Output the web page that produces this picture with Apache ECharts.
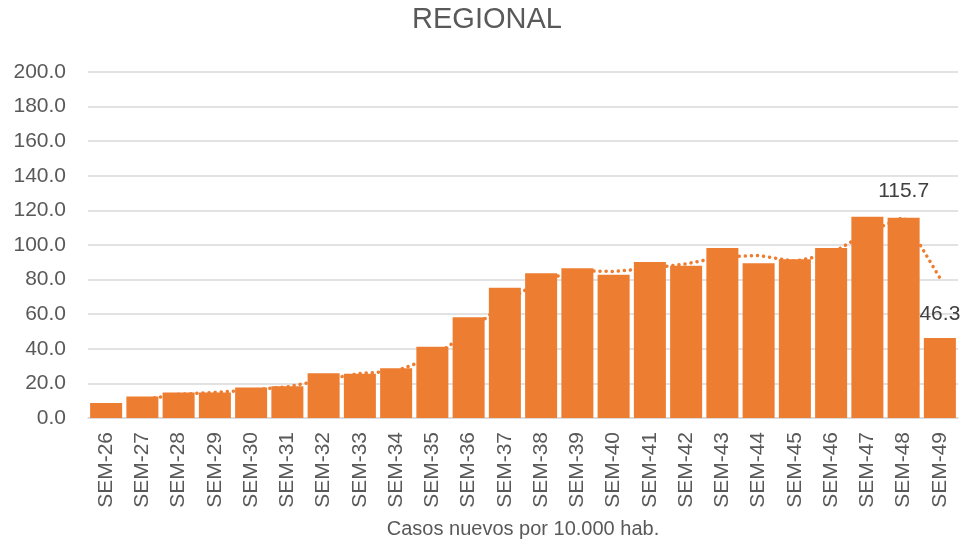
<!DOCTYPE html>
<html>
<head>
<meta charset="utf-8">
<script src="https://cdn.jsdelivr.net/npm/echarts@6/dist/echarts.min.js"></script>
<style>
html,body{margin:0;padding:0;background:#fff;}
#chart{width:974px;height:542px;}
</style>
</head>
<body>
<div id="chart"></div>
<script>
var categories = ['SEM-26','SEM-27','SEM-28','SEM-29','SEM-30','SEM-31','SEM-32','SEM-33','SEM-34','SEM-35','SEM-36','SEM-37','SEM-38','SEM-39','SEM-40','SEM-41','SEM-42','SEM-43','SEM-44','SEM-45','SEM-46','SEM-47','SEM-48','SEM-49'];
var casos = [8.7,12.5,14.8,14.7,17.7,18.3,25.8,25.6,28.7,41.2,58.2,75.3,83.6,86.5,82.8,90.2,88.0,98.3,89.4,91.7,98.3,116.3,115.7,46.3];
var tendencia = [null,10.6,13.7,14.8,16.2,18.0,22.1,25.7,27.2,35.0,49.7,66.8,79.5,85.1,84.7,86.5,89.1,93.2,93.9,90.6,95.0,107.3,116.0,81.0];
var labeledIdx = [22, 23];
var yTicks = [0,20,40,60,80,100,120,140,160,180,200];

var FONT = '"Liberation Sans", Arial, sans-serif';
var TXT = '#595959';
var ORANGE = '#ED7D31';

var barData = casos.map(function(v, i){
  if (labeledIdx.indexOf(i) >= 0) {
    return {value: v, label: {show: true, position: 'top', distance: i === 22 ? 16 : 13,
      formatter: function(p){ return p.value.toFixed(1); },
      color: '#404040', fontSize: 21, fontFamily: FONT}};
  }
  return v;
});

var chart = echarts.init(document.getElementById('chart'), null, {renderer: 'canvas'});
chart.setOption({
  animation: false,
  backgroundColor: '#ffffff',
  title: {
    text: 'REGIONAL', left: 'center', top: 0,
    textStyle: {color: TXT, fontSize: 29, fontWeight: 'normal', fontFamily: FONT}
  },
  grid: {left: 88, right: 16, top: 72, bottom: 124, containLabel: false, outerBoundsMode: 'none'},
  xAxis: {
    type: 'category',
    data: categories,
    name: 'Casos nuevos por 10.000 hab.',
    nameLocation: 'middle',
    nameGap: 101,
    nameTextStyle: {color: TXT, fontSize: 20, fontFamily: FONT},
    axisLine: {lineStyle: {color: '#d9d9d9', width: 1.5}},
    axisTick: {show: false},
    axisLabel: {rotate: 90, margin: 14, color: TXT, fontSize: 21, fontFamily: FONT, interval: 0}
  },
  yAxis: {
    type: 'value',
    min: yTicks[0], max: yTicks[yTicks.length-1], interval: 20,
    axisLine: {show: false},
    axisTick: {show: false},
    splitLine: {lineStyle: {color: '#d9d9d9', width: 1.5}},
    axisLabel: {margin: 22, color: TXT, fontSize: 21, fontFamily: FONT,
      formatter: function(v){ return v.toFixed(1); }}
  },
  series: [
    {
      type: 'line',
      data: tendencia,
      z: 1,
      symbol: 'none',
      connectNulls: false,
      lineStyle: {color: ORANGE, width: 3.5, type: [0.1, 6], cap: 'round'},
      silent: true
    },
    {
      type: 'bar',
      data: barData,
      z: 2,
      barCategoryGap: '11.7%',
      itemStyle: {color: ORANGE}
    }
  ]
});
</script>
</body>
</html>
